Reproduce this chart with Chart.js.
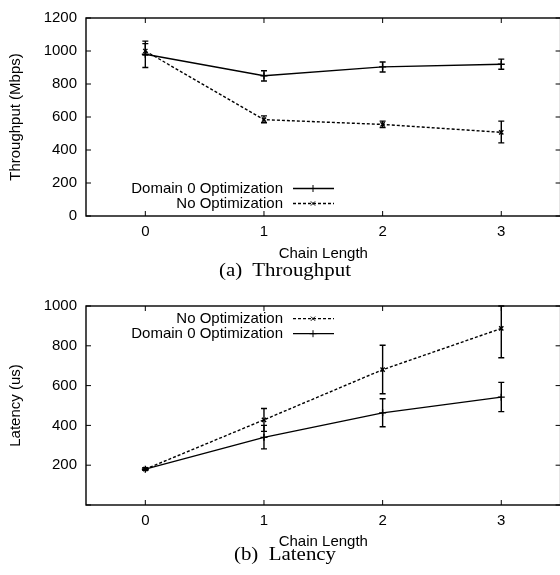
<!DOCTYPE html>
<html>
<head>
<meta charset="utf-8">
<script src="https://cdn.jsdelivr.net/npm/chart.js@4/dist/chart.umd.min.js"></script>
<style>
  html, body { margin: 0; padding: 0; background: #fff; }
  body { width: 560px; height: 575px; overflow: hidden; position: relative; }
  canvas { position: absolute; left: 0; }
  #tputChart { top: 0; }
  #latChart { top: 288px; }
  .caption {
    position: absolute; left: 0; width: 570px; text-align: center;
    font-family: "Liberation Serif", "Times New Roman", serif; font-size: 19px;
    line-height: 19px; color: #000; transform: scaleX(1.1);
  }
</style>
</head>
<body>
<canvas id="tputChart" width="566" height="263"></canvas>
<canvas id="latChart" width="566" height="263"></canvas>
<div class="caption" style="top:260px">(a)&nbsp; Throughput</div>
<div class="caption" style="top:544px">(b)&nbsp; Latency</div>
<script>
// Eixo X comum
const chainLength = [0, 1, 2, 3];

// (a) Throughput (Mbps)
const tputDom0   = [980, 850, 904, 920];
const tputDom0Lo = [900, 818, 873, 889];
const tputDom0Hi = [1060, 880, 933, 951];
const tputNoOpt   = [1000, 584, 555, 507];
const tputNoOptLo = [975, 565, 536, 443];
const tputNoOptHi = [1045, 607, 575, 575];
const tputTicks = [0, 200, 400, 600, 800, 1000, 1200];

// (b) Latency (us)
const latNoOpt   = [180, 428, 680, 887];
const latNoOptLo = [174, 370, 559, 740];
const latNoOptHi = [187, 485, 803, 1000];
const latDom0   = [180, 340, 463, 542];
const latDom0Lo = [175, 282, 393, 469];
const latDom0Hi = [186, 400, 534, 616];
const latTicks = [0, 200, 400, 600, 800, 1000];

const LBL_DOM0 = 'Domain 0 Optimization';
const LBL_NOOPT = 'No Optimization';

const FONT = { family: '"Liberation Sans", Arial, Helvetica, sans-serif', size: 15 };
const DASH = [3, 2];

// desenha barras de erro, moldura, ticks internos e legenda no estilo gnuplot
const gnuplotPlugin = {
    id: 'gnuplot',
    afterDatasetsDraw(chart, args, opts) {
        const ctx = chart.ctx;
        const area = chart.chartArea;
        const xs = chart.scales.x;
        const ys = chart.scales.y;
        ctx.save();
        ctx.strokeStyle = '#000';

        // barras de erro
        ctx.save();
        ctx.beginPath();
        ctx.rect(area.left, area.top - 1, area.right - area.left, area.bottom - area.top + 2);
        ctx.clip();
        ctx.lineWidth = 1.4;
        chart.data.datasets.forEach(ds => {
            ds.data.forEach((p, i) => {
                const x = xs.getPixelForValue(p.x);
                const yLo = ys.getPixelForValue(ds.errLo[i]);
                const yHi = ys.getPixelForValue(ds.errHi[i]);
                ctx.beginPath();
                ctx.moveTo(x, yLo); ctx.lineTo(x, yHi);
                ctx.moveTo(x - 3, yLo); ctx.lineTo(x + 3, yLo);
                ctx.moveTo(x - 3, yHi); ctx.lineTo(x + 3, yHi);
                ctx.stroke();
            });
        });
        ctx.restore();

        // moldura
        ctx.lineWidth = 1.4;
        ctx.strokeRect(area.left, area.top, area.right - area.left, area.bottom - area.top);

        // ticks internos (espelhados)
        ctx.lineWidth = 1;
        ctx.beginPath();
        xs.ticks.forEach(t => {
            const x = xs.getPixelForValue(t.value);
            ctx.moveTo(x, area.bottom); ctx.lineTo(x, area.bottom - 5);
            ctx.moveTo(x, area.top); ctx.lineTo(x, area.top + 5);
        });
        ys.ticks.forEach(t => {
            const y = ys.getPixelForValue(t.value);
            ctx.moveTo(area.left, y); ctx.lineTo(area.left + 5, y);
            ctx.moveTo(area.right, y); ctx.lineTo(area.right - 5, y);
        });
        ctx.stroke();

        // legenda
        ctx.font = FONT.size + 'px ' + FONT.family;
        ctx.fillStyle = '#000';
        ctx.textAlign = 'right';
        ctx.textBaseline = 'middle';
        opts.rows.forEach((idx, r) => {
            const ds = chart.data.datasets[idx];
            const y = opts.anchor === 'top'
                ? area.top + opts.offset + r * 15
                : area.bottom - opts.offset - (opts.rows.length - 1 - r) * 15;
            ctx.fillText(ds.label, 283, y);
            ctx.save();
            ctx.lineWidth = 1.3;
            ctx.setLineDash(ds.borderDash || []);
            ctx.beginPath();
            ctx.moveTo(293, y); ctx.lineTo(334, y);
            ctx.stroke();
            ctx.restore();
            Chart.helpers.drawPoint(ctx, {
                pointStyle: ds.pointStyle, radius: ds.pointRadius, borderWidth: 1.3
            }, 313, y);
        });
        ctx.restore();
    }
};

function toPoints(ys) {
    return chainLength.map((x, i) => ({ x: x, y: ys[i] }));
}

function makeDataset(label, values, lo, hi, dashed) {
    return {
        label: label,
        data: toPoints(values),
        errLo: lo,
        errHi: hi,
        borderColor: '#000',
        backgroundColor: '#000',
        borderWidth: 1.4,
        borderDash: dashed ? DASH : [],
        pointStyle: dashed ? 'crossRot' : 'cross',
        pointRadius: dashed ? 3 : 3.5,
        pointBorderWidth: 1.4,
        pointBorderColor: '#000',
        tension: 0,
        fill: false
    };
}

function makeChart(id, datasets, yTitle, yTicks, hideZero, xHeight, legend) {
    return new Chart(document.getElementById(id), {
        type: 'line',
        data: { datasets: datasets },
        plugins: [gnuplotPlugin],
        options: {
            responsive: false,
            animation: false,
            layout: { padding: { top: 10, right: 4, left: 0, bottom: 0 } },
            plugins: {
                legend: { display: false },
                tooltip: { enabled: false },
                gnuplot: legend
            },
            scales: {
                x: {
                    type: 'linear',
                    min: -0.5,
                    max: 3.5,
                    afterBuildTicks: s => { s.ticks = chainLength.map(v => ({ value: v })); },
                    afterFit: s => { s.height = xHeight; },
                    grid: { display: false, drawTicks: false },
                    border: { display: false },
                    ticks: { color: '#000', font: FONT, padding: 7, callback: v => String(v) },
                    title: { display: true, text: 'Chain Length', color: '#000', font: FONT, padding: { top: 0, bottom: 0 } }
                },
                y: {
                    min: yTicks[0],
                    max: yTicks[yTicks.length - 1],
                    afterBuildTicks: s => { s.ticks = yTicks.map(v => ({ value: v })); },
                    afterFit: s => { s.width = 86; },
                    grid: { display: false, drawTicks: false },
                    border: { display: false },
                    ticks: { color: '#000', font: FONT, padding: 9,
                             callback: v => (hideZero && v === 0) ? '' : String(v) },
                    title: { display: true, text: yTitle, color: '#000', font: FONT, padding: { top: 7, bottom: 0 } }
                }
            }
        }
    });
}

makeChart('tputChart', [
    makeDataset(LBL_DOM0, tputDom0, tputDom0Lo, tputDom0Hi, false),
    makeDataset(LBL_NOOPT, tputNoOpt, tputNoOptLo, tputNoOptHi, true)
], 'Throughput (Mbps)', tputTicks, false, 47, { rows: [0, 1], anchor: 'bottom', offset: 12.5 });

makeChart('latChart', [
    makeDataset(LBL_NOOPT, latNoOpt, latNoOptLo, latNoOptHi, true),
    makeDataset(LBL_DOM0, latDom0, latDom0Lo, latDom0Hi, false)
], 'Latency (us)', latTicks, true, 46, { rows: [0, 1], anchor: 'top', offset: 12.7 });
</script>
</body>
</html>
